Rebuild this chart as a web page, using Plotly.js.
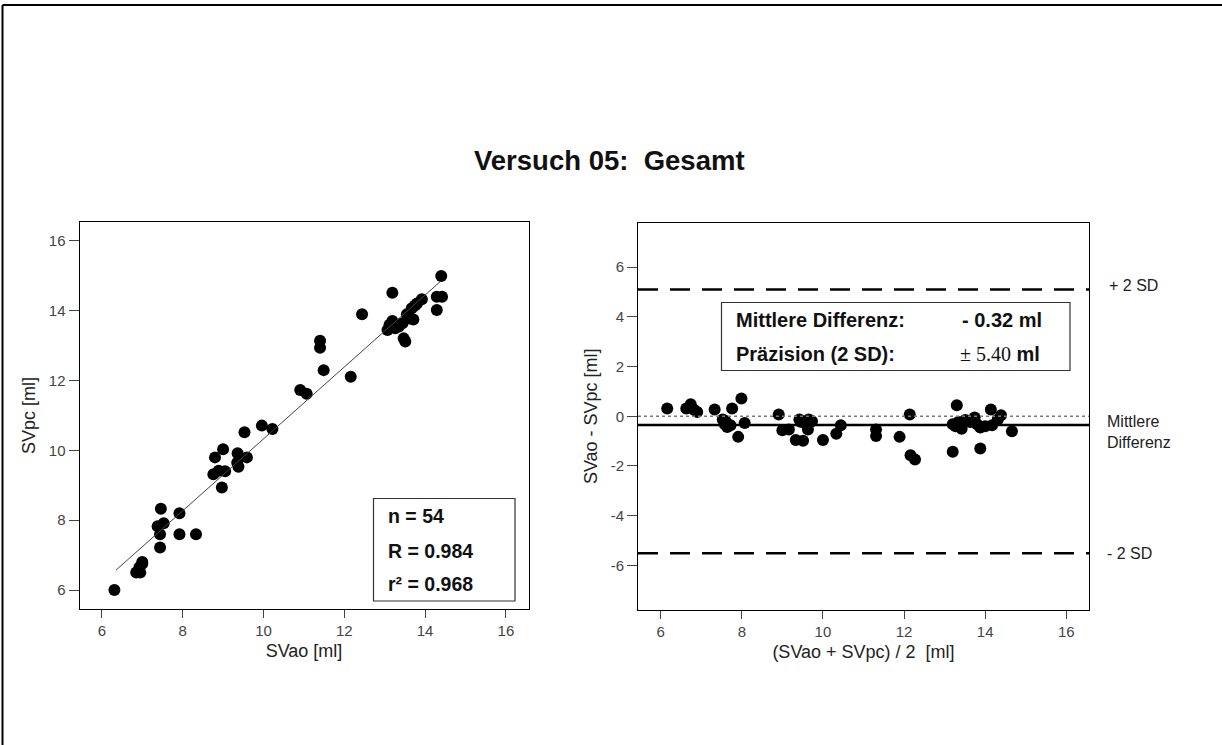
<!DOCTYPE html>
<html>
<head>
<meta charset="utf-8">
<script src="https://cdn.plot.ly/plotly-3.0.1.min.js"></script>
<style>
html,body{margin:0;padding:0;background:#fff;}
#chart{width:1222px;height:745px;}
</style>
</head>
<body>
<div id="chart"></div>
<script>
// ---- Data: scatter SVao vs SVpc ----
const svao = [6.31,6.85,6.95,6.93,7.0,7.0,7.44,7.44,7.38,7.53,7.46,7.92,7.92,8.33,
  8.76,8.89,8.97,8.8,9.0,9.05,9.36,9.59,9.38,9.35,9.53,9.96,10.22,10.91,11.07,
  11.4,11.4,11.49,12.16,12.44,13.19,13.07,13.19,13.26,13.44,13.47,13.51,13.55,
  13.71,13.67,13.8,13.92,14.29,14.42,14.29,14.4,13.12,13.6,13.35,13.75];
const svpc = [6.0,6.5,6.5,6.65,6.8,6.75,7.22,7.6,7.83,7.91,8.33,8.2,7.6,7.6,
  9.32,9.42,8.94,9.8,10.03,9.4,9.92,9.8,9.53,9.65,10.52,10.71,10.61,11.73,11.62,
  13.14,12.94,12.3,12.11,13.9,14.52,13.45,13.71,13.5,13.64,13.21,13.12,13.9,
  13.75,14.07,14.21,14.33,14.4,14.4,14.02,15.0,13.6,13.78,13.55,14.15];
// regression line end points
const fitX = [6.35, 14.37];
const fitY = [6.57, 14.83];
const statN = 'n = 54', statR = 'R = 0.984', statR2 = 'r² = 0.968';

// ---- Data: Bland-Altman ----
const baMean = [6.16,6.63,6.74,6.82,6.9,7.33,7.53,7.58,7.64,7.72,7.76,7.91,7.99,8.07,
  8.91,9.0,9.16,9.33,9.51,9.42,9.65,9.57,9.63,9.73,10.0,10.33,10.44,11.31,11.31,
  11.89,12.14,12.16,12.27,13.2,13.3,13.2,13.34,13.42,13.51,13.63,13.74,13.8,13.88,
  13.88,14.0,14.14,14.17,14.31,14.39,14.66,13.27,13.58,9.45,7.6];
const baDiff = [0.31,0.31,0.48,0.26,0.17,0.27,-0.13,-0.32,-0.43,-0.36,0.31,-0.83,0.71,-0.27,
  0.07,-0.56,-0.53,-0.96,-0.99,-0.13,-0.13,-0.29,-0.53,-0.2,-0.96,-0.7,-0.36,-0.53,-0.8,
  -0.83,0.07,-1.57,-1.74,-1.43,0.44,-0.32,-0.23,-0.5,-0.15,-0.23,-0.05,-0.32,-0.45,
  -1.3,-0.4,0.27,-0.36,-0.13,0.04,-0.6,-0.4,-0.18,-0.22,-0.2];
const meanDiff = -0.35;
const upperSD = 5.1;
const lowerSD = -5.52;
const zeroRef = 0;
const meanText = '- 0.32 ml';
const precText = '± 5.40';

// ---- Ticks ----
const ticksLeft = [6,8,10,12,14,16];
const ticksBAy = [-6,-4,-2,0,2,4,6];
const ticksBAyText = ['-6','-4','-2','0','2','4','6'];

const FONT = 'Arial, "Liberation Sans", sans-serif';
const tickFont = {family: FONT, size: 15, color: '#444'};
const titleFont = {family: FONT, size: 18, color: '#222'};

function axisBase(extra){
  return Object.assign({
    showline:true, linecolor:'#000', linewidth:1, mirror:true,
    showgrid:false, zeroline:false, ticks:'outside', tickcolor:'#444',
    tickwidth:1, tickfont:tickFont, fixedrange:true
  }, extra);
}

const traces = [
  {x: svao, y: svpc, type:'scatter', mode:'markers', xaxis:'x', yaxis:'y',
   marker:{color:'#000', size:12}, hoverinfo:'skip'},
  {x: fitX, y: fitY, type:'scatter', mode:'lines', xaxis:'x', yaxis:'y',
   line:{color:'#444', width:1}, hoverinfo:'skip'},
  {x: baMean, y: baDiff, type:'scatter', mode:'markers', xaxis:'x2', yaxis:'y2',
   marker:{color:'#000', size:12}, hoverinfo:'skip'}
];

const W = 1222, H = 745;
const px = v => v / W;
const py = v => 1 - v / H;

const shapes = [
  // outer frame
  {type:'line', xref:'paper', yref:'paper', x0:px(2.5), x1:1, y0:py(5), y1:py(5), line:{color:'#000', width:2}},
  {type:'line', xref:'paper', yref:'paper', x0:px(2.5), x1:px(2.5), y0:py(5), y1:0, line:{color:'#000', width:2}},
  // BA lines
  {type:'line', xref:'x2 domain', yref:'y2', x0:0, x1:1, y0:zeroRef, y1:zeroRef, line:{color:'#777', width:1.5, dash:'dot'}},
  {type:'line', xref:'x2 domain', yref:'y2', x0:0, x1:1, y0:meanDiff, y1:meanDiff, line:{color:'#000', width:2.5}},
  {type:'line', xref:'x2 domain', yref:'y2', x0:0, x1:1, y0:upperSD, y1:upperSD, line:{color:'#000', width:2.5, dash:'20px,12px'}},
  {type:'line', xref:'x2 domain', yref:'y2', x0:0, x1:1, y0:lowerSD, y1:lowerSD, line:{color:'#000', width:2.5, dash:'20px,12px'}},
  // stat boxes
  {type:'rect', xref:'paper', yref:'paper', x0:px(373.5), x1:px(515), y0:py(601), y1:py(498.5), line:{color:'#333', width:1.2}, fillcolor:'rgba(255,255,255,0)'},
  {type:'rect', xref:'paper', yref:'paper', x0:px(721.5), x1:px(1070), y0:py(370.5), y1:py(302.5), line:{color:'#333', width:1.2}, fillcolor:'rgba(255,255,255,0)'}
];

const boldF = (s) => ({family: FONT, size: s, color:'#111'});
function ann(text, x, y, size, extra){
  return Object.assign({text:text, xref:'paper', yref:'paper', x:px(x), y:py(y),
    xanchor:'left', yanchor:'middle', showarrow:false, font:boldF(size)}, extra||{});
}

const annotations = [
  {text:'<b>Versuch 05:  Gesamt</b>', xref:'paper', yref:'paper', x:px(609), y:py(160),
   xanchor:'center', yanchor:'middle', showarrow:false, font:{family:FONT, size:27.5, color:'#111'}},
  ann('<b>'+statN+'</b>', 386, 516, 19.5),
  ann('<b>'+statR+'</b>', 386, 551, 19.5),
  ann('<b>'+statR2+'</b>', 386, 584, 19.5),
  ann('<b>Mittlere Differenz:</b>', 734, 320, 20),
  ann('<b>Präzision (2 SD):</b>', 734, 354, 20),
  ann('<b>'+meanText+'</b>', 960, 320, 20),
  ann('<span style="font-family:\'Times New Roman\', \'Liberation Serif\', serif">'+precText+'</span> <b>ml</b>', 958, 354, 20),
  {text:'+ 2 SD', xref:'x2 domain', yref:'y2', x:1.04, y:upperSD+0.15, xanchor:'left', yanchor:'middle',
   showarrow:false, font:{family:FONT, size:16, color:'#222'}},
  {text:'Mittlere<br>Differenz', xref:'x2 domain', yref:'y2', x:1.035, y:meanDiff-0.3, xanchor:'left', yanchor:'middle',
   showarrow:false, align:'left', font:{family:FONT, size:16, color:'#222'}},
  {text:'- 2 SD', xref:'x2 domain', yref:'y2', x:1.035, y:lowerSD, xanchor:'left', yanchor:'middle',
   showarrow:false, font:{family:FONT, size:16, color:'#222'}}
];

const layout = {
  width: W, height: H,
  margin:{l:0, r:0, t:0, b:0},
  paper_bgcolor:'#fff', plot_bgcolor:'#fff',
  showlegend:false,
  xaxis: axisBase({domain:[px(79.5), px(528.5)], range:[5.446, 16.56], tickvals:ticksLeft, ticklen:8, anchor:'y',
    title:{text:'SVao [ml]', font:titleFont, standoff:6}}),
  yaxis: axisBase({domain:[py(609), py(222)], range:[5.456, 16.544], tickvals:ticksLeft, ticklen:10, anchor:'x',
    title:{text:'SVpc [ml]', font:titleFont, standoff:8}}),
  xaxis2: axisBase({domain:[px(638), px(1089)], range:[5.44, 16.56], tickvals:ticksLeft, ticklen:8, anchor:'y2',
    title:{text:'(SVao + SVpc) / 2  [ml]', font:titleFont, standoff:6}}),
  yaxis2: axisBase({domain:[py(610), py(222.5)], range:[-7.8, 7.8], tickvals:ticksBAy, ticktext:ticksBAyText, ticklen:10, anchor:'x2',
    title:{text:'SVao - SVpc [ml]', font:titleFont, standoff:8}}),
  shapes: shapes,
  annotations: annotations
};

Plotly.newPlot('chart', traces, layout, {staticPlot:true, displayModeBar:false});
</script>
</body>
</html>
